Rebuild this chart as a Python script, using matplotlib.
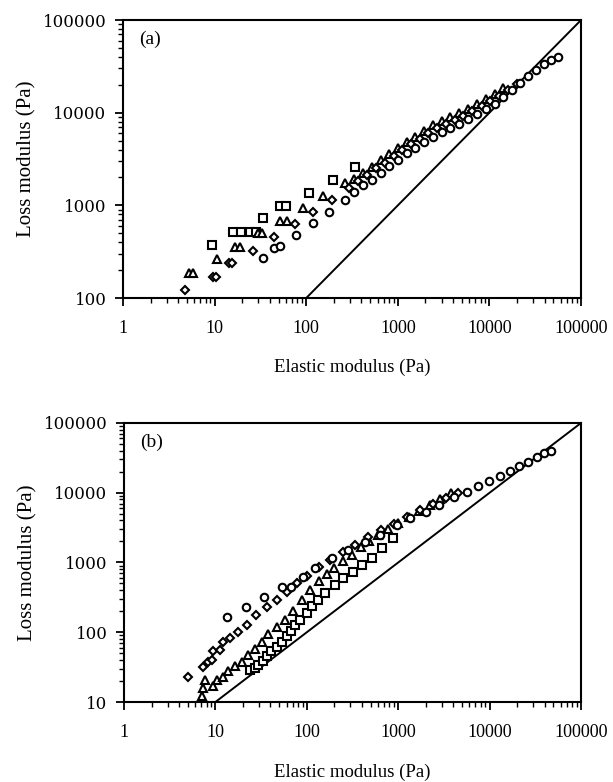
import numpy as np
import matplotlib
matplotlib.use('Agg')
import matplotlib.pyplot as plt
from matplotlib.ticker import FixedLocator, FuncFormatter, LogLocator, NullFormatter

# ---- panel (a) data: elastic modulus G' (Pa) vs loss modulus G'' (Pa)
a_sq_x = [9.3, 16, 19.4, 24.3, 28.3, 33.5, 51.8, 60, 108, 198, 341]
a_sq_y = [374, 513, 513, 513, 513, 726, 985, 985, 1370, 1880, 2614]

a_tri_x = [5.2, 5.85, 10.7, 16.7, 18.9, 30, 32.5, 52, 61, 93, 154, 265, 330, 420, 520,
           650, 810, 1000, 1250, 1550, 1950, 2400, 3000, 3750, 4700, 5900, 7300, 9100,
           11400, 14200]
a_tri_y = [185, 185, 262, 359, 359, 500, 500, 684, 684, 930, 1262, 1729, 1920, 2260, 2600,
           3050, 3560, 4120, 4800, 5480, 6330, 7290, 8140, 8930, 9830, 11070, 12430, 14100,
           16000, 18600]

a_dia_x = [4.8, 9.5, 10.4, 14.5, 15.5, 26, 44, 75, 120, 193, 296, 370, 460, 580, 720,
           900, 1120, 1400, 1750, 2150, 2700, 3350, 4200, 5200, 6500, 8200, 10200, 12700,
           16000, 20000]
a_dia_y = [122, 170, 170, 237, 237, 324, 453, 630, 855, 1143, 1528, 1850, 2150, 2500, 2900,
           3400, 3950, 4550, 5200, 6000, 6850, 7550, 8300, 9200, 10300, 11700, 13300, 15300,
           17700, 20500]

a_cir_x = [34, 45, 52, 77, 120, 179, 265, 330, 420, 520, 650, 810, 1000, 1250, 1550,
           1950, 2400, 3000, 3750, 4700, 5900, 7300, 9100, 11400, 14200, 17500, 21500,
           26500, 32500, 39500, 47500, 56000]
a_cir_y = [268, 350, 365, 480, 650, 855, 1143, 1400, 1650, 1900, 2250, 2650, 3100, 3650, 4200,
           4850, 5500, 6250, 6900, 7600, 8500, 9600, 10900, 12500, 14800, 17500, 20800,
           24800, 29000, 33500, 37000, 40000]

# ---- panel (b) data
b_sq_x = [23.9, 27, 29.5, 33, 36.4, 41, 46.9, 53, 60.3, 67, 74.3, 84, 100, 115, 134,
          160, 204, 250, 323, 400, 513, 660, 884]
b_sq_y = [28.9, 31, 34, 39, 45, 53, 62, 73, 87, 105, 125, 150, 190, 235, 291,
          360, 478, 590, 741, 920, 1153, 1600, 2230]

b_tri_x = [7.08, 7.4, 7.7, 9.5, 10.3, 12.2, 13.9, 16.4, 19.3, 22.9, 27, 32, 37.9, 47,
           57.6, 71, 88, 108, 135, 165, 200, 250, 310, 390, 480, 600, 780, 1000, 1300,
           1700, 2200, 2900, 3800]
b_tri_y = [12, 15.8, 20.8, 16.7, 20.8, 23.2, 27.4, 32.3, 38, 47, 58.2, 72, 95, 118,
           151, 200, 290, 405, 540, 680, 830, 1050, 1300, 1650, 2000, 2450, 3000, 3700, 4500,
           5500, 6700, 8200, 10000]

b_dia_x = [5.06, 7.4, 8.4, 9.1, 9.5, 11.2, 12.2, 14.5, 17.8, 22, 27.8, 36.4, 46.9, 60,
           78, 100, 135, 180, 250, 340, 470, 650, 900, 1250, 1750, 2400, 3300, 4500]
b_dia_y = [22.8, 31.6, 38, 40, 53, 56, 72.6, 82, 102, 125, 175, 233, 292, 380,
           500, 640, 850, 1100, 1400, 1800, 2300, 2900, 3600, 4500, 5600, 6800, 8300, 10000]

b_cir_x = [13.3, 21.6, 34.3, 53, 68, 91.6, 123, 187, 285, 433, 635, 963, 1346, 2014,
           2820, 4070, 5610, 7520, 9930, 13000, 16700, 21100, 26100, 32700, 39400, 47000]
b_cir_y = [168, 233, 324, 442, 452, 628, 828, 1153, 1513, 1996, 2484, 3460, 4310, 5360,
           6680, 8610, 10170, 12500, 14900, 17600, 20800, 24200, 27900, 32900, 36800, 40100]

x_ticks = [1, 10, 100, 1000, 10000, 100000]
a_y_ticks = [100, 1000, 10000, 100000]
b_y_ticks = [10, 100, 1000, 10000, 100000]

plt.rcParams['font.family'] = ['Liberation Serif', 'DejaVu Serif']

fig = plt.figure(figsize=(6.13, 7.82), dpi=100)
ax_a = fig.add_axes([0.2007, 0.6189, 0.7472, 0.3555])
ax_b = fig.add_axes([0.2023, 0.1023, 0.7455, 0.3568])

mk = dict(linestyle='none', markerfacecolor='white', markeredgecolor='black',
          markeredgewidth=1.5, clip_on=False)


def style_axis(ax, yticks, ylo, tag, xlab_y):
    ax.set_xscale('log')
    ax.set_yscale('log')
    ax.set_xlim(1, 100000)
    ax.set_ylim(ylo, 100000)
    # 1:1 line
    ax.plot([ylo, 100000], [ylo, 100000], color='black', lw=1.4)
    ax.xaxis.set_major_locator(FixedLocator(x_ticks))
    ax.yaxis.set_major_locator(FixedLocator(yticks))
    ax.xaxis.set_minor_locator(LogLocator(base=10, subs=np.arange(2, 10)))
    ax.yaxis.set_minor_locator(LogLocator(base=10, subs=np.arange(2, 10)))
    ax.xaxis.set_minor_formatter(NullFormatter())
    ax.yaxis.set_minor_formatter(NullFormatter())
    fmt = FuncFormatter(lambda v, p: f'{v:.0f}')
    ax.xaxis.set_major_formatter(fmt)
    ax.yaxis.set_major_formatter(fmt)
    ax.tick_params(which='major', direction='out', length=6, width=1.3)
    ax.tick_params(which='minor', direction='out', length=3.5, width=1.0)
    ax.tick_params(axis='x', which='major', labelsize=13, pad=10)
    ax.tick_params(axis='y', which='major', pad=6)
    for lab in ax.get_yticklabels():
        lab.set_fontfamily('DejaVu Serif')
        lab.set_fontsize(12)
    for s in ax.spines.values():
        s.set_linewidth(1.5)
    ax.set_xlabel('Elastic modulus (Pa)', fontsize=13.5)
    ax.set_ylabel('Loss modulus (Pa)', fontsize=15)
    ax.yaxis.set_label_coords(-0.19, 0.5)
    ax.xaxis.set_label_coords(0.5, xlab_y)
    ax.text(0.035, 0.93, tag, transform=ax.transAxes, fontsize=14, va='center', ha='left')


style_axis(ax_a, a_y_ticks, 100, '(a)', -0.22)
ax_a.plot(a_sq_x, a_sq_y, marker='s', markersize=5.4, **mk)
ax_a.plot(a_tri_x, a_tri_y, marker='^', markersize=6.0, **mk)
ax_a.plot(a_dia_x, a_dia_y, marker='D', markersize=4.4, **mk)
ax_a.plot(a_cir_x, a_cir_y, marker='o', markersize=5.4, **mk)

style_axis(ax_b, b_y_ticks, 10, '(b)', -0.22)
ax_b.plot(b_sq_x, b_sq_y, marker='s', markersize=5.4, **mk)
ax_b.plot(b_tri_x, b_tri_y, marker='^', markersize=6.0, **mk)
ax_b.plot(b_dia_x, b_dia_y, marker='D', markersize=4.4, **mk)
ax_b.plot(b_cir_x, b_cir_y, marker='o', markersize=5.4, **mk)

fig.savefig('out.png', dpi=100)
